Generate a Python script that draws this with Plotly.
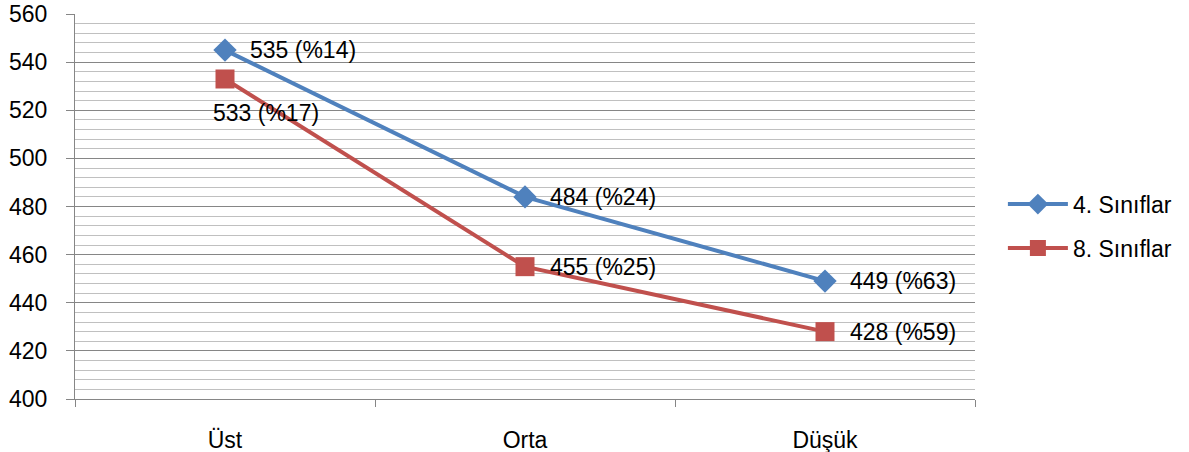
import plotly.graph_objects as go

categories = ["Üst", "Orta", "Düşük"]
grade4 = [545, 484, 449]
grade8 = [533, 455, 428]
labels4 = ["535 (%14)", "484 (%24)", "449 (%63)"]
labels8 = ["533 (%17)", "455 (%25)", "428 (%59)"]
series_names = ["4. Sınıflar", "8. Sınıflar"]

FONT = "Liberation Sans, Arial, sans-serif"
FS = 23
BLUE = "#4F81BD"
RED = "#C0504D"

fig = go.Figure()
fig.add_trace(go.Scatter(x=categories, y=grade4, name=series_names[0], mode="lines+markers",
                         legendgroup="g4",
                         line=dict(color=BLUE, width=4),
                         marker=dict(symbol="diamond", size=18, color=BLUE)))
fig.add_trace(go.Scatter(x=categories, y=grade8, name=series_names[1], mode="lines+markers",
                         legendgroup="g8",
                         line=dict(color=RED, width=4),
                         marker=dict(symbol="square", size=19, color=RED)))

ann = []
for i, (c, v, t) in enumerate(zip(categories, grade4, labels4)):
    ann.append(dict(x=c, y=v, text=t, xref="x", yref="y", showarrow=False,
                    xanchor="left", yanchor="middle", xshift=23, yshift=0))
for i, (c, v, t) in enumerate(zip(categories, grade8, labels8)):
    if i == 0:
        ann.append(dict(x=c, y=v, text=t, xref="x", yref="y", showarrow=False,
                        xanchor="left", yanchor="middle", xshift=-14, yshift=-34))
    else:
        ann.append(dict(x=c, y=v, text=t, xref="x", yref="y", showarrow=False,
                        xanchor="left", yanchor="middle", xshift=23, yshift=0))
for a in ann:
    a["font"] = dict(family=FONT, size=FS, color="#000000")

fig.update_layout(
    width=1189, height=452,
    margin=dict(l=75, r=214, t=14, b=53, autoexpand=False),
    paper_bgcolor="white", plot_bgcolor="white",
    font=dict(family=FONT, size=FS, color="#000000"),
    annotations=ann,
    showlegend=True,
    legend=dict(x=1.031, y=0.449, xanchor="left", yanchor="middle",
                font=dict(family=FONT, size=FS), tracegroupgap=11,
                itemwidth=60),
    xaxis=dict(type="category", tickson="boundaries", ticks="outside", ticklen=7,
               tickcolor="#868686", showline=True, linecolor="#868686", linewidth=1,
               showgrid=False, range=[-0.5, 2.5], ticklabelstandoff=20,
               automargin=False),
    yaxis=dict(range=[400, 560.01], tickvals=[400, 420, 440, 460, 480, 500, 520, 540, 560],
               ticks="outside", ticklen=8,
               tickcolor="#868686", showline=True, linecolor="#868686", linewidth=1,
               gridcolor="#868686", gridwidth=1, zeroline=False,
               minor=dict(dtick=4, showgrid=True, gridcolor="#C0C0C0", gridwidth=1),
               ticklabelstandoff=14, automargin=False, ticklabeloverflow="allow"),
)

fig.write_html("out.html", config={"displayModeBar": False},
               post_script="document.body.style.margin='0';")
